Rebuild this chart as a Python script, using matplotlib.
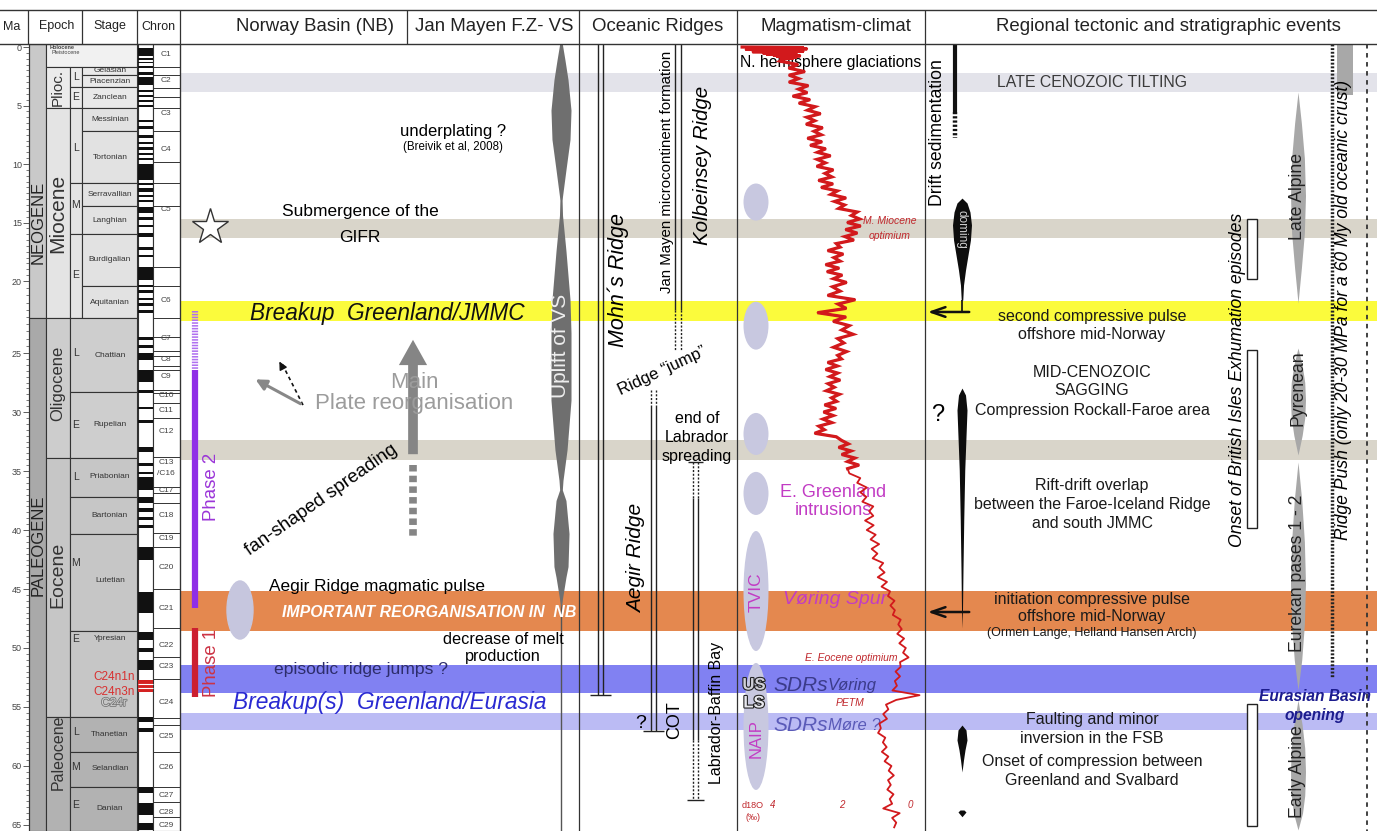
import numpy as np
import matplotlib.pyplot as plt
import matplotlib.patheffects as pe
from matplotlib.patches import Ellipse
from matplotlib.ticker import MultipleLocator

plt.rcParams['font.family'] = ['Liberation Sans', 'DejaVu Sans']

# ------------------------------------------------------------ age axis (Ma)
AGE_TOP, AGE_BASE = -0.26, 65.51
# the 20-25 Ma interval is drawn stretched on this chart
SCALE_AGE = [-5.0, 0.0, 20.0, 25.0, 65.0, 70.0]
SCALE_DEPTH = [-58.5, 0.0, 234.0, 306.0, 778.0, 837.0]


def age_to_depth(a):
    return np.interp(a, SCALE_AGE, SCALE_DEPTH)


def depth_to_age(d):
    return np.interp(d, SCALE_DEPTH, SCALE_AGE)


# ------------------------------------------------------------ time scale
PERIOD_NAMES = ['NEOGENE', 'PALEOGENE']
PERIOD_TOP = [AGE_TOP, 22.57]
PERIOD_BASE = [22.57, AGE_BASE]
PERIOD_LABEL_AGE = [14.96, 41.27]

EPOCH_NAMES = ['Plioc.', 'Miocene', 'Oligocene', 'Eocene', 'Paleocene']
EPOCH_TOP = [1.71, 5.21, 22.57, 33.90, 55.85]
EPOCH_BASE = [5.21, 22.57, 33.90, 55.85, AGE_BASE]
EPOCH_LABEL_AGE = [3.46, 14.19, 27.54, 43.81, 58.81]
EPOCH_FONTSIZE = [11, 15, 12, 14, 11.5]

STAGE_NAMES = ['Gelasian', 'Piacenzian', 'Zanclean', 'Messinian', 'Tortonian',
               'Serravallian', 'Langhian', 'Burdigalian', 'Aquitanian',
               'Chattian', 'Rupelian', 'Priabonian', 'Bartonian', 'Lutetian',
               'Ypresian', 'Thanetian', 'Selandian', 'Danian']
STAGE_BASE = [2.39, 3.42, 5.21, 7.18, 11.62, 13.59, 15.98, 20.35, 22.57,
              28.31, 33.90, 37.20, 40.34, 48.56, 55.85, 58.81, 61.78, AGE_BASE]
STAGE_LABEL_AGE = [1.97, 2.91, 4.31, 6.19, 9.4, 12.6, 14.79, 18.17, 21.46,
                   25.2, 31.1, 35.5, 38.8, 44.3, 49.2, 57.3, 60.2, 63.6]

SUB_TOP = [1.71, 3.42, 5.21, 11.62, 15.98]
SUB_BASE = [3.42, 5.21, 11.62, 15.98, 22.57]
SUB_LETTERS = ['L', 'E', 'L', 'M', 'E', 'L', 'E', 'L', 'M', 'E', 'L', 'M', 'E']
SUB_LETTER_AGE = [2.56, 4.27, 8.63, 13.5, 19.49, 25.0, 31.1, 35.5, 42.8,
                  49.2, 57.1, 60.1, 63.3]

CHRON_BOUNDS = [1.71, 2.39, 3.50, 4.27, 5.21, 7.18, 9.83, 11.62, 13.59, 18.80,
                20.35, 22.57, 23.89, 24.86, 25.25, 26.10, 26.44, 28.14, 28.39,
                29.24, 30.51, 33.81, 36.36, 36.86, 37.71, 40.25, 41.44, 45.00,
                48.31, 50.76, 52.63, 55.93, 56.53, 58.81, 61.78, 63.05, 64.32]
CHRON_LABELS = ['C1', 'C2', 'C3', 'C4', 'C5', 'C6', 'C7', 'C8', 'C9', 'C10',
                'C11', 'C12', 'C13', '/C16', 'C17', 'C18', 'C19', 'C20', 'C21',
                'C22', 'C23', 'C24', 'C25', 'C26', 'C27', 'C28', 'C29']
CHRON_LABEL_AGE = [0.68, 2.82, 5.64, 8.72, 13.85, 21.32, 23.96, 25.51, 27.03,
                   28.56, 29.83, 31.61, 34.32, 35.17, 36.69, 38.73, 40.68,
                   43.22, 46.69, 49.83, 51.53, 54.66, 57.54, 60.17, 62.46,
                   63.90, 65.08]

# normal polarity intervals (top, base) in Ma
POLARITY_NORMAL = [
    (0.09, 0.77), (0.94, 1.11), (1.28, 1.37), (1.62, 1.79), (2.14, 2.39),
    (2.56, 3.25), (3.68, 3.85), (4.10, 4.27), (4.53, 4.70), (4.96, 5.13),
    (6.24, 6.41), (6.75, 7.01), (7.52, 7.78), (8.12, 8.29), (8.55, 8.80),
    (9.06, 9.23), (9.49, 9.66), (10.00, 11.37), (11.62, 11.79), (12.05, 12.39),
    (12.65, 12.82), (13.08, 13.25), (13.68, 14.19), (14.53, 14.79),
    (15.21, 15.38), (15.90, 16.24), (17.09, 17.35), (17.78, 17.95),
    (18.80, 19.91), (20.28, 20.42), (20.63, 20.83), (21.18, 21.32),
    (21.53, 21.74), (22.01, 22.22), (23.89, 24.10), (24.44, 24.65),
    (25.00, 25.59), (26.44, 27.46), (28.14, 28.39), (29.58, 29.75),
    (30.68, 30.93), (32.97, 33.39), (34.32, 34.58), (35.08, 35.25),
    (35.51, 36.61), (37.20, 37.71), (38.14, 38.47), (38.90, 39.15),
    (39.58, 39.83), (41.44, 42.54), (45.25, 47.03), (48.64, 49.32),
    (49.97, 50.31), (50.99, 51.86), (55.85, 56.27), (56.78, 57.12),
    (61.78, 62.29), (63.14, 64.15), (64.83, 65.42)]
C24_RED = (52.71, 53.73)

# ------------------------------------------------------------ event bands
BAND_TOP = [2.22, 14.70, 21.39, 32.37, 45.17, 51.44, 55.51]
BAND_BASE = [3.85, 16.30, 22.78, 34.07, 48.56, 53.81, 56.95]
BAND_COLOR = ['#e3e3ea', '#d9d5ca', '#fbfb3c', '#d9d5ca', '#e4884f',
              '#8181f2', '#bbbbf4']

# Jan Mayen F.Z. volcanic spindle (uplift of VS), relative intensity
VS_AGE = [-0.26, 1.1, 2.8, 5.4, 7.9, 10.5, 13.1, 14.4, 17.4, 21.3, 23.6, 29.0,
          33.2, 35.8, 36.6, 37.5, 40.3, 43.1, 44.0, 46.6]
VS_INTENSITY = [0.12, 0.36, 0.64, 0.91, 0.82, 0.45, 0.09, 0.14, 0.45, 0.82,
                0.91, 0.91, 0.55, 0.18, 0.12, 0.45, 0.73, 0.64, 0.45, 0.0]

# magmatic pulses (lavender ellipses): centre age and duration (Ma)
MAG_PULSE_AGE = [13.25, 23.1, 31.86, 36.9, 45.17, 56.65]
MAG_PULSE_SPAN = [3.17, 3.33, 3.56, 3.65, 10.17, 10.76]
AEGIR_PULSE = (46.78, 4.92)

# oxygen isotope record (d18O, permil)
D18O_AGE = [
    0.00, 0.05, 0.10, 0.15, 0.20, 0.25, 0.30, 0.35, 0.40, 0.45, 0.50, 0.55,
    0.60, 0.65, 0.70, 0.75, 0.80, 0.85, 0.90, 0.95, 1.00,
    1.2, 1.5, 1.8, 2.1, 2.4, 2.7, 3.0, 3.3, 3.6, 3.9, 4.2, 4.5, 4.8, 5.1, 5.4,
    5.7, 6.0, 6.3, 6.6, 6.9, 7.2, 7.5, 7.8, 8.1, 8.4, 8.7, 9.0, 9.3, 9.6, 9.9,
    10.2, 10.5, 10.8, 11.1, 11.4, 11.7, 12.0, 12.3, 12.6, 12.9, 13.2, 13.5,
    13.8, 14.1, 14.4, 14.7, 15.0, 15.3, 15.6, 15.9, 16.2, 16.5, 16.8, 17.1,
    17.4, 17.7, 18.0, 18.3, 18.6, 18.9, 19.2, 19.5, 19.8, 20.1, 20.4, 20.7,
    21.0, 21.3, 21.6, 21.9, 22.2, 22.5, 22.8, 23.1, 23.4, 23.7, 24.0, 24.3,
    24.6, 24.9, 25.2, 25.5, 25.8, 26.1, 26.4, 26.7, 27.0, 27.3, 27.6, 27.9,
    28.2, 28.5, 28.8, 29.1, 29.4, 29.7, 30.0, 30.3, 30.6, 30.9, 31.2, 31.5,
    31.8, 32.1, 32.4, 32.7, 33.0, 33.3, 33.6, 33.9, 34.2, 34.5, 34.8,
    35.2, 35.6, 36.0, 36.4, 36.8, 37.2, 37.6, 38.0, 38.4, 38.8, 39.2, 39.6,
    40.0, 40.4, 40.8, 41.2, 41.6, 42.0, 42.4, 42.8, 43.2, 43.6, 44.0, 44.4,
    44.8, 45.2, 45.6, 46.0, 46.4, 46.8, 47.2, 47.6, 48.0, 48.4, 48.8, 49.2,
    49.6, 50.0, 50.4, 50.8, 51.2, 51.6, 52.0, 52.4, 52.8, 53.2, 53.6, 54.0,
    54.4, 54.8, 55.2, 55.6, 56.0, 56.4, 56.8, 57.2, 57.6, 58.0, 58.4, 58.8,
    59.2, 59.6, 60.0, 60.4, 60.8, 61.2, 61.6, 62.0, 62.4, 62.8, 63.2, 63.6,
    64.0, 64.4, 64.8, 65.2]
D18O_VALUE = [
    4.9, 3.1, 4.7, 3.0, 4.8, 3.3, 4.5, 3.1, 4.6, 3.4, 4.3, 3.3, 4.2, 3.4, 4.0,
    3.2, 3.9, 3.3, 3.8, 3.4, 3.7,
    3.80, 3.27, 3.54, 3.07, 3.53, 3.25, 3.53, 2.97, 3.25, 3.00, 3.42, 2.92,
    3.24, 2.77, 2.99, 2.61, 3.01, 2.78, 3.03, 2.55, 2.80, 2.59, 2.99, 2.57,
    2.91, 2.46, 2.70, 2.32, 2.71, 2.47, 2.72, 2.24, 2.48, 2.28, 2.67, 2.25,
    2.59, 2.12, 2.31, 1.87, 2.20, 1.91, 2.08, 1.54, 1.71, 1.47, 1.83, 1.44,
    1.88, 1.54, 1.90, 1.64, 2.15, 2.04, 2.40, 1.95, 2.22, 2.04, 2.46, 2.07,
    2.42, 1.98, 2.23, 1.85, 2.26, 2.04, 2.40, 1.60, 2.10, 1.86, 2.70, 1.87,
    2.24, 1.77, 1.99, 1.66, 2.11, 1.93, 2.23, 1.85, 2.11, 2.00, 2.40, 2.12,
    2.46, 2.11, 2.34, 2.04, 2.39, 2.21, 2.44, 2.06, 2.29, 2.14, 2.49, 2.16,
    2.52, 2.24, 2.54, 2.28, 2.66, 2.50, 2.78, 2.15, 2.00, 1.80, 2.08, 1.72,
    1.99, 1.61, 1.82, 1.49, 1.82,
    1.77, 1.45, 1.54, 1.26, 1.45, 1.27, 1.39, 1.07, 1.19, 1.07, 1.31, 1.06,
    1.26, 1.00, 1.15, 0.90, 1.12, 0.95, 1.09, 0.78, 0.89, 0.74, 0.94, 0.67,
    0.83, 0.58, 0.64, 0.45, 0.57, 0.44, 0.50, 0.27, 0.34, 0.24, 0.37, 0.17,
    0.31, 0.12, 0.20, 0.04, 0.29, 0.27, 0.42, 0.29, 0.44, 0.38, 0.51, -0.28,
    0.40, 0.70, 0.63, 0.78, 0.67, 0.89, 0.85, 0.93, 0.72, 0.79, 0.68, 0.82,
    0.63, 0.74, 0.54, 0.62, 0.47, 0.64, 0.56, 0.66, 0.48, 0.59, 0.52, 0.78,
    0.30, 0.52, 0.40, 0.46]

# black compressional events (regional column), relative intensity
DOMING_AGE = [12.91, 13.33, 14.10, 15.21, 16.50, 17.78, 19.06, 20.28, 21.32]
DOMING_INTENSITY = [0.0, 0.53, 0.84, 1.0, 0.89, 0.63, 0.37, 0.16, 0.08]
SAGGING_AGE = [27.97, 28.56, 29.83, 31.53, 34.92, 39.15, 43.39, 46.78, 48.31]
SAGGING_INTENSITY = [0.0, 0.7, 1.0, 0.85, 0.55, 0.35, 0.2, 0.1, 0.0]
FSB_AGE = [56.53, 56.95, 57.80, 58.64, 59.49, 60.51]
FSB_INTENSITY = [0.0, 0.8, 1.0, 0.6, 0.3, 0.0]
SVALBARD_AGE = [63.73, 63.90, 64.30]
SVALBARD_INTENSITY = [0.5, 1.0, 0.0]

# Alpine / Pyrenean / Eurekan phases (grey spindles)
PHASE_NAMES = ['Late Alpine', 'Pyrenean', 'Eurekan pases 1 - 2', 'Early Alpine']
PHASE_LABEL_AGE = [12.8, 27.97, 43.64, 60.51]
PHASE_AGES = [[3.85, 6.5, 9.5, 12.7, 15.9, 18.9, 21.53],
              [24.65, 26.0, 27.5, 29.0, 30.5, 32.0, 33.64],
              [34.24, 37.5, 41.0, 44.5, 48.0, 51.0, 53.56],
              [54.41, 56.5, 58.5, 60.5, 62.5, 64.0, 65.42]]
PHASE_INTENSITY = [[0.0, 0.45, 0.85, 1.0, 0.85, 0.45, 0.0],
                   [0.0, 0.55, 0.9, 1.0, 0.9, 0.55, 0.0],
                   [0.0, 0.5, 0.85, 1.0, 0.85, 0.5, 0.0],
                   [0.0, 0.55, 0.9, 1.0, 0.9, 0.6, 0.0]]

# British Isles exhumation episodes (open boxes)
EXHUMATION_TOP = [14.70, 24.79, 54.75]
EXHUMATION_BASE = [19.83, 39.83, 65.08]

# ------------------------------------------------------------ figure
W = 1377
LC = '#333333'
fig = plt.figure(figsize=(13.77, 8.31), dpi=100)
body_h = 787 / 831
ax = fig.add_axes([0, 0, 1, body_h])
hx = fig.add_axes([0, body_h, 1, 35 / 831])

ax.set_yscale('function', functions=(age_to_depth, depth_to_age))
ax.set_xlim(0, W)
ax.set_ylim(AGE_BASE, AGE_TOP)
for side in ['top', 'right', 'bottom']:
    ax.spines[side].set_visible(False)
ax.spines['left'].set_position(('data', 29))
ax.spines['left'].set_linewidth(0.8)
ax.spines['left'].set_color(LC)
ax.yaxis.set_major_locator(MultipleLocator(5))
ax.yaxis.set_minor_locator(MultipleLocator(0.5))
ax.tick_params(axis='y', which='major', length=4, width=0.6, labelsize=6.5,
               pad=1, colors='#444444')
ax.tick_params(axis='y', which='minor', length=2, width=0.5, colors='#444444')
ax.set_xticks([])

# event bands across the interpretation columns
for top, base, col in zip(BAND_TOP, BAND_BASE, BAND_COLOR):
    ax.axhspan(top, base, xmin=180 / W, xmax=1, color=col, lw=0, zorder=0.5)

# ---- time scale columns
cell = dict(edgecolor=LC, linewidth=0.8, zorder=1)
ax.bar(37.5, np.subtract(PERIOD_BASE, PERIOD_TOP), bottom=PERIOD_TOP, width=17,
       color=['#c9c9c9', '#a9a9a9'], **cell)
for name, age in zip(PERIOD_NAMES, PERIOD_LABEL_AGE):
    ax.text(38, age, name, rotation=90, ha='center', va='center', fontsize=12,
            color='#222222')

ax.bar(91.5, 1.71 - AGE_TOP, bottom=AGE_TOP, width=91, color='#f1f1f1', **cell)
ax.text(50, 0.05, 'Holocene', fontsize=4, fontweight='bold', va='center', color='#444')
ax.text(52, 0.5, 'Pleistocene', fontsize=4, va='center', color='#444')

epoch_fill = ['#ebebeb', '#e4e4e4', '#cdcdcd', '#c6c6c6', '#b2b2b2']
ax.bar(58, np.subtract(EPOCH_BASE, EPOCH_TOP), bottom=EPOCH_TOP, width=24,
       color=epoch_fill, **cell)
for name, age, fs in zip(EPOCH_NAMES, EPOCH_LABEL_AGE, EPOCH_FONTSIZE):
    ax.text(58, age, name, rotation=90, ha='center', va='center', fontsize=fs,
            color='#333333')

ax.bar(76, np.subtract(SUB_BASE, SUB_TOP), bottom=SUB_TOP, width=12,
       color=['#ebebeb', '#ebebeb', '#e4e4e4', '#e4e4e4', '#e4e4e4'], **cell)
for letter, age in zip(SUB_LETTERS, SUB_LETTER_AGE):
    ax.text(76, age, letter, ha='center', va='center', fontsize=7.5, color='#333')

stage_fill = ['#e9e9e9'] * 3 + ['#e2e2e2'] * 6 + ['#cecece'] * 2 + \
             ['#c6c6c6'] * 4 + ['#b2b2b2'] * 3
stage_top = [1.71] + STAGE_BASE[:-1]
for top, base, col in zip(stage_top, STAGE_BASE, stage_fill):
    left = 82 if base <= 22.6 else 70
    ax.bar(left + (137 - left) / 2, base - top, bottom=top, width=137 - left,
           color=col, **cell)
for name, age in zip(STAGE_NAMES, STAGE_LABEL_AGE):
    ax.text(110, age, name, ha='center', va='center', fontsize=6, color='#333')

ax.text(114, 52.46, 'C24n1n', ha='center', va='center', fontsize=8.5, color='#d83030')
ax.text(114, 53.73, 'C24n3n', ha='center', va='center', fontsize=8.5, color='#d83030')
ax.text(114, 54.66, 'C24r', ha='center', va='center', fontsize=8.5, color='#cfcfcf',
        path_effects=[pe.withStroke(linewidth=1.2, foreground='#777777')])

# magnetic polarity column
ax.bar(145.5, AGE_BASE - AGE_TOP, bottom=AGE_TOP, width=15, color='white', **cell)
ptop = [p[0] for p in POLARITY_NORMAL]
pbase = [p[1] for p in POLARITY_NORMAL]
ax.bar(145.5, np.subtract(pbase, ptop), bottom=ptop, width=15, color='#111111',
       lw=0, zorder=1.2)
ax.bar(145.5, C24_RED[1] - C24_RED[0], bottom=C24_RED[0], width=15,
       color='#d42222', lw=0, zorder=1.2)
ax.hlines([53.05, 53.39], 138, 153, colors='white', lw=0.8, zorder=1.3)

ax.bar(166.5, AGE_BASE - AGE_TOP, bottom=AGE_TOP, width=27, color='white', **cell)
ax.hlines(CHRON_BOUNDS, 153, 180, colors=LC, lw=0.7, zorder=1.3)
for lab, age in zip(CHRON_LABELS, CHRON_LABEL_AGE):
    ax.text(166, age, lab, ha='center', va='center', fontsize=6, color='#444')

# main column borders
ax.vlines([180, 579, 737, 925], AGE_TOP, AGE_BASE, colors=LC, lw=0.9, zorder=2)

# ---- Norway Basin
ax.plot(210, 15.38, marker='*', markersize=27, mfc='white', mec='#333333',
        mew=1, zorder=3)
ax.text(360, 14.02, 'Submergence of the', ha='center', va='center', fontsize=12.5)
ax.text(360, 16.24, 'GIFR', ha='center', va='center', fontsize=12.5)
ax.text(453, 7.26, 'underplating ?', ha='center', va='center', fontsize=12)
ax.text(453, 8.55, '(Breivik et al, 2008)', ha='center', va='center', fontsize=8.3)
ax.text(250, 22.29, 'Breakup  Greenland/JMMC', ha='left', va='center',
        fontsize=16.3, style='italic', color='#111111')

ax.vlines(195, 26.44, 46.61, colors='#8f2fe6', lw=4.5, zorder=2)
ax.plot([195, 195], [22.08, 26.44], color='#b070f0', lw=4.5, dashes=(0.25, 0.2),
        zorder=2)
ax.text(211, 36.36, 'Phase 2', rotation=90, ha='center', va='center',
        fontsize=13.4, color='#9b35d8')
ax.vlines(195, 48.31, 54.15, colors='#cc1f30', lw=4.5, zorder=2)
ax.text(211, 51.27, 'Phase 1', rotation=90, ha='center', va='center',
        fontsize=13.4, color='#cc3344')

# plate motion arrows
ax.plot([303, 282], [29.41, 25.9], color='#111111', lw=1.2, ls=(0, (2.2, 2)))
ax.annotate('', xy=(278, 25.51), xytext=(283, 26.3),
            arrowprops=dict(arrowstyle='-|>', color='#111111', lw=1,
                            mutation_scale=12))
ax.annotate('', xy=(253, 27.12), xytext=(303, 29.41),
            arrowprops=dict(arrowstyle='-|>', color='#888888', lw=2.2,
                            mutation_scale=16))
ax.annotate('', xy=(413, 23.89), xytext=(413, 33.81),
            arrowprops=dict(arrowstyle='simple,head_width=1.45,head_length=1.3,'
                            'tail_width=0.5', mutation_scale=14,
                            color='#858585', lw=0))
ax.plot([413, 413], [34.49, 40.68], color='#858585', lw=5.5, dashes=(0.85, 0.55))
ax.text(414, 27.54, 'Main', ha='center', va='center', fontsize=16, color='#9c9c9c')
ax.text(414, 29.24, 'Plate reorganisation', ha='center', va='center',
        fontsize=16, color='#9c9c9c')
ax.text(321, 37.46, 'fan-shaped spreading', ha='center', va='center',
        rotation=35, fontsize=13.5, rotation_mode='anchor')

ax.add_patch(Ellipse((240, AEGIR_PULSE[0]), 26, AEGIR_PULSE[1],
                     color='#c6c6de', zorder=1.5))
ax.text(269, 44.75, 'Aegir Ridge magmatic pulse', ha='left', va='center',
        fontsize=12.4)
ax.text(282, 47.03, 'IMPORTANT REORGANISATION IN  NB', ha='left', va='center',
        fontsize=11.4, fontweight='bold', style='italic', color='white', zorder=4)
ax.text(503, 49.24, 'decrease of melt', ha='center', va='center', fontsize=11.7)
ax.text(503, 50.76, 'production', ha='center', va='center', fontsize=11.7)
ax.text(274, 51.86, 'episodic ridge jumps ?', ha='left', va='center',
        fontsize=12.6, color='#2d2d6b')
ax.text(233, 54.58, 'Breakup(s)  Greenland/Eurasia', ha='left', va='center',
        fontsize=16.4, style='italic', color='#2a2ad2')

# ---- Jan Mayen F.Z. - volcanic spindle
ax.vlines(561, AGE_TOP, AGE_BASE, colors='#555555', lw=1, zorder=1.5)
vs_hw = 11 * np.array(VS_INTENSITY)
ax.fill_betweenx(VS_AGE, 561 - vs_hw, 561 + vs_hw, color='#6f6f6f', lw=0, zorder=1.8)
ax.text(561, 24.5, 'Uplift of VS', rotation=90, ha='center', va='center',
        fontsize=15, color='#eeeeee', zorder=3)

# ---- Oceanic ridges
ridge = dict(colors='#222222', lw=1, zorder=2)
ax.vlines([598, 603], AGE_TOP, 53.98, **ridge)
ax.hlines(53.98, 590, 611, **ridge)
ax.text(618, 19.91, 'Mohn´s Ridge', rotation=90, ha='center', va='center',
        fontsize=15.5, style='italic')

ax.vlines([675, 681], AGE_TOP, 22.01, **ridge)
for x in [675, 681]:
    ax.plot([x, x], [22.01, 24.79], color='#222222', lw=1, ls=(0, (1.5, 1.2)))
ax.text(667, 10.68, 'Jan Mayen microcontinent formation', rotation=90,
        ha='center', va='center', fontsize=10.8)
ax.text(702, 10.09, 'Kolbeinsey Ridge', rotation=90, ha='center', va='center',
        fontsize=14.8, style='italic')
ax.text(662, 26.53, 'Ridge “jump”', rotation=25, ha='center', va='center',
        fontsize=12, rotation_mode='anchor')

for x in [651, 656]:
    ax.plot([x, x], [28.14, 29.41], color='#222222', lw=1, ls=(0, (1.5, 1.2)))
ax.vlines([651, 656], 29.41, 57.0, **ridge)
ax.hlines(57.0, 643, 664, **ridge)
ax.text(637, 42.37, 'Aegir Ridge', rotation=90, ha='center', va='center',
        fontsize=15, style='italic')
ax.text(641, 56.4, '?', ha='center', va='center', fontsize=14)
ax.text(675, 56.10, 'COT', rotation=90, ha='center', va='center', fontsize=13)

ax.hlines(34.24, 688, 703, **ridge)
for x in [693, 698]:
    ax.plot([x, x], [34.24, 37.29], color='#222222', lw=1, ls=(0, (1.5, 1.2)))
    ax.plot([x, x], [57.8, 62.88], color='#222222', lw=1, ls=(0, (1.5, 1.2)))
ax.vlines([693, 698], 37.29, 57.8, **ridge)
ax.hlines(62.88, 687, 704, **ridge)
for line, age in zip(['end of', 'Labrador', 'spreading'], [30.51, 32.12, 33.73]):
    ax.text(697, age, line, ha='center', va='center', fontsize=11.5)
ax.text(716, 55.51, 'Labrador-Baffin Bay', rotation=90, ha='center',
        va='center', fontsize=11.5)

# ---- Magmatism - climate
for age, span in zip(MAG_PULSE_AGE, MAG_PULSE_SPAN):
    ax.add_patch(Ellipse((756, age), 25, span, color='#c8c8e0', lw=0, zorder=1.5))
ax.text(740, 1.28, 'N. hemisphere glaciations', ha='left', va='center', fontsize=11.3)
red_small = dict(ha='center', va='center', fontsize=7.5, style='italic',
                 color='#c0282d')
ax.text(890, 14.87, 'M. Miocene', **red_small)
ax.text(890, 16.15, 'optimium', **red_small)
ax.text(851, 50.85, 'E. Eocene optimium', **red_small)
ax.text(850, 54.66, 'PETM', **red_small)
mag = '#c23cc4'
ax.text(833, 36.78, 'E. Greenland', ha='center', va='center', fontsize=13, color=mag)
ax.text(833, 38.31, 'intrusions', ha='center', va='center', fontsize=13, color=mag)
ax.text(756, 45.25, 'TVIC', rotation=90, ha='center', va='center', fontsize=12.5,
        color=mag)
ax.text(783, 45.93, 'Vøring Spur', ha='left', va='center', fontsize=14,
        style='italic', color=mag)
ax.text(756, 57.71, 'NAIP', rotation=90, ha='center', va='center', fontsize=12,
        color=mag)
outline = [pe.withStroke(linewidth=1.6, foreground='#222222')]
ax.text(754, 53.14, 'US', ha='center', va='center', fontsize=12,
        fontweight='bold', color='#d0d0d8', path_effects=outline)
ax.text(754, 54.66, 'LS', ha='center', va='center', fontsize=12,
        fontweight='bold', color='#e8e8ee', path_effects=outline)
ax.text(773, 53.14, 'SDRs', ha='left', va='center', fontsize=15,
        style='italic', color='#3b3b8a')
ax.text(828, 53.14, 'Vøring', ha='left', va='center', fontsize=12,
        style='italic', color='#3b3b8a')
ax.text(773, 56.53, 'SDRs', ha='left', va='center', fontsize=15,
        style='italic', color='#5a5ab8')
ax.text(828, 56.53, 'Møre ?', ha='left', va='center', fontsize=12,
        style='italic', color='#5a5ab8')
ax.text(742, 63.31, 'd18O', ha='left', va='center', fontsize=6.5, color='#c0282d')
ax.text(745, 64.4, '(‰)', ha='left', va='center', fontsize=6.5, color='#c0282d')

# ---- Regional tectonic and stratigraphic events
ax.vlines(955, AGE_TOP, 5.56, colors='#111111', lw=3)
ax.plot([955, 955], [5.56, 7.78], color='#111111', lw=3.2, dashes=(0.5, 0.45))
ax.text(938, 7.35, 'Drift sedimentation', rotation=90, ha='center', va='center',
        fontsize=12.7)
ax.text(1092, 2.99, 'LATE CENOZOIC TILTING', ha='center', va='center',
        fontsize=11.4, color='#3a3a3a')

for ages, inten, hw in [(DOMING_AGE, DOMING_INTENSITY, 9.5),
                        (SAGGING_AGE, SAGGING_INTENSITY, 5.0),
                        (FSB_AGE, FSB_INTENSITY, 5.0),
                        (SVALBARD_AGE, SVALBARD_INTENSITY, 4.0)]:
    w = hw * np.array(inten)
    ax.fill_betweenx(ages, 962 - w, 962 + w, color='#0d0d0d', lw=0, zorder=2)
ax.vlines(962, 21.32, 22.15, colors='#0d0d0d', lw=1.2)
ax.text(962, 15.6, 'doming', rotation=270, ha='center', va='center',
        fontsize=8.5, color='#cfcfcf', zorder=3)
for age in [22.15, 46.95]:
    ax.annotate('', xy=(925, age), xytext=(972, age),
                arrowprops=dict(arrowstyle='->,head_width=0.35,head_length=1.0',
                                lw=1.8, color='#111111'))

reg = dict(ha='center', va='center', fontsize=11.5, color='#1a1a1a')
for line, age in [('second compressive pulse', 22.43),
                  ('offshore mid-Norway', 23.68),
                  ('MID-CENOZOIC', 26.61), ('SAGGING', 28.14),
                  ('Compression Rockall-Faroe area', 29.83),
                  ('Rift-drift overlap', 36.27),
                  ('between the Faroe-Iceland Ridge', 37.88),
                  ('and south JMMC', 39.41),
                  ('initiation compressive pulse', 45.85),
                  ('offshore mid-Norway', 47.37),
                  ('Faulting and minor', 56.10),
                  ('inversion in the FSB', 57.63),
                  ('Onset of compression between', 59.66),
                  ('Greenland and Svalbard', 61.19)]:
    ax.text(1092, age, line, **reg)
ax.text(1092, 48.73, '(Ormen Lange, Helland Hansen Arch)', ha='center',
        va='center', fontsize=9, color='#1a1a1a')
ax.text(938, 30.25, '?', ha='center', va='center', fontsize=17)

ax.bar(1252, np.subtract(EXHUMATION_BASE, EXHUMATION_TOP), bottom=EXHUMATION_TOP,
       width=10, color='white', edgecolor='#222222', lw=1, zorder=2)
ax.text(1237, 27.29, 'Onset of British Isles Exhumation episodes', rotation=90,
        ha='center', va='center', fontsize=12.7, style='italic')

for name, lab_age, ages, inten in zip(PHASE_NAMES, PHASE_LABEL_AGE, PHASE_AGES,
                                      PHASE_INTENSITY):
    w = 7.5 * np.array(inten)
    ax.fill_betweenx(ages, 1298 - w, 1298 + w, color='#a8a8a8', lw=0, zorder=1.8)
    ax.text(1298, lab_age, name, rotation=90, ha='center', va='center',
            fontsize=12.7, color='#222222', zorder=3)

ax.text(1315, 54.15, 'Eurasian Basin', ha='center', va='center', fontsize=11.2,
        fontweight='bold', style='italic', color='#1c1c8e')
ax.text(1315, 55.68, 'opening', ha='center', va='center', fontsize=11.2,
        fontweight='bold', style='italic', color='#1c1c8e')

ax.bar(1345, 4.1 - AGE_TOP, bottom=AGE_TOP, width=16, color='#a8a8a8', lw=0,
       zorder=1.6)
ax.plot([1332, 1332], [AGE_TOP, 52.54], color='#222222', lw=2.5,
        dashes=(0.55, 0.5), zorder=2)
ax.plot([1367, 1367], [AGE_TOP, AGE_BASE], color='#333333', lw=1.3,
        dashes=(2.5, 2.5), zorder=2)
ax.text(1344, 22.0, 'Ridge Push (only 20-30 MPa for a 60 My old oceanic crust)',
        rotation=90, ha='center', va='center', fontsize=12.7, style='italic',
        zorder=3)

# ---- d18O curve on its own axis, sharing the age scale
cx = fig.add_axes([737 / W, 0, 188 / W, body_h], sharey=ax)
cx.set_xlim(5.05, -0.44)
cx.axis('off')
cx.patch.set_alpha(0)
d18o_age = np.array(D18O_AGE)
d18o_val = np.array(D18O_VALUE)
cx.plot(d18o_val, d18o_age, color='#d2191c', lw=1.3, zorder=3)
# the Neogene part of the record is the densest: draw it heavier
young = d18o_age <= 35
cx.plot(d18o_val[young], d18o_age[young], color='#d2191c', lw=2.3,
        solid_joinstyle='miter', zorder=3)
for v in [4, 2, 0]:
    cx.text(v, 63.31, str(v), ha='center', va='center', fontsize=7,
            style='italic', color='#c0282d')

# ---- header row
hx.set_xlim(0, W)
hx.set_ylim(0, 1)
hx.axis('off')
hx.plot([0, W], [0.97, 0.97], color=LC, lw=1, clip_on=False)
hx.plot([0, W], [0, 0], color=LC, lw=1, clip_on=False)
hx.vlines([28, 82, 137, 180, 407, 579, 737, 925], 0, 0.97, colors=LC, lw=0.9)
for label, x, fs in [('Ma', 12, 9), ('Epoch', 57, 9), ('Stage', 110, 9),
                     ('Chron', 158, 9), ('Norway Basin (NB)', 315, 13.4),
                     ('Jan Mayen F.Z- VS', 494, 13.4),
                     ('Oceanic Ridges', 658, 13.4),
                     ('Magmatism-climat', 836, 13.4),
                     ('Regional tectonic and stratigraphic events', 1168, 13.4)]:
    hx.text(x, 0.5, label, ha='center', va='center', fontsize=fs, color='#222222')

fig.savefig('out.png', dpi=100)
